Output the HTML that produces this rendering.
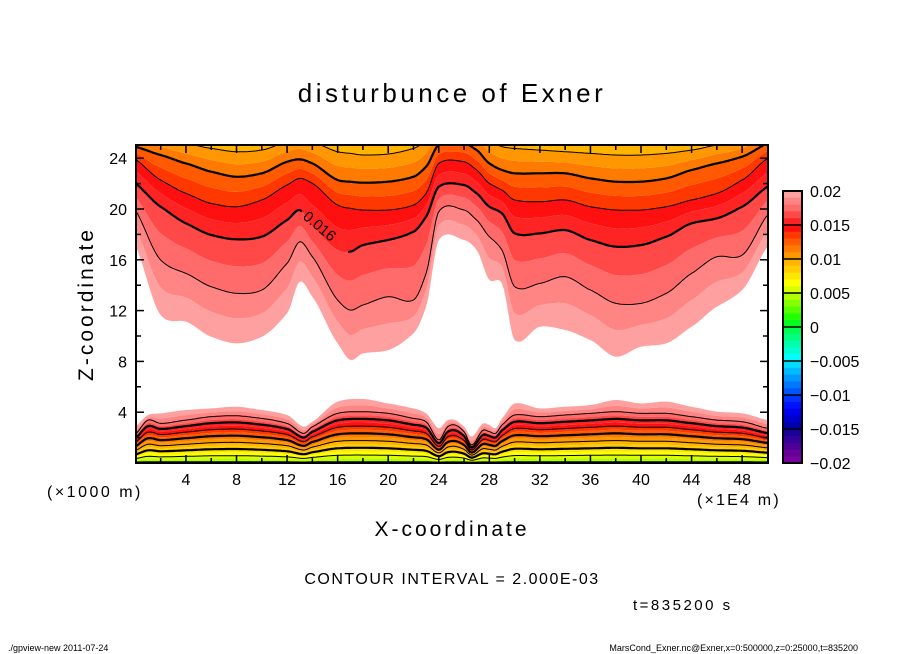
<!DOCTYPE html>
<html><head><meta charset="utf-8"><style>
html,body{margin:0;padding:0;background:#fff;}
svg{display:block;font-family:"Liberation Sans",sans-serif;}
</style></head><body>
<svg id="chart" width="904" height="654" viewBox="0 0 904 654" xmlns="http://www.w3.org/2000/svg">
<defs><clipPath id="plotclip"><rect x="136" y="145" width="632" height="318"/></clipPath></defs>
<rect width="904" height="654" fill="#fff"/>
<text x="452" y="102" font-size="26" text-anchor="middle" letter-spacing="3.5">disturbunce of Exner</text>
<g id="bands" clip-path="url(#plotclip)"></g>
<g id="lines" clip-path="url(#plotclip)"></g>
<text x="0" y="0" font-size="15" transform="translate(302,218) rotate(40)">0.016</text>
<rect x="136" y="145" width="632" height="318" fill="none" stroke="#000" stroke-width="2"/>
<g id="axes"></g>
<text x="47" y="497" font-size="16" letter-spacing="2.5">(×1000 m)</text>
<text x="697" y="505" font-size="16" letter-spacing="2.2">(×1E4 m)</text>
<text x="452" y="536" font-size="21" text-anchor="middle" letter-spacing="3">X-coordinate</text>
<text x="0" y="0" font-size="21" text-anchor="middle" letter-spacing="3" transform="translate(93,304) rotate(-90)">Z-coordinate</text>
<text x="452" y="584" font-size="16" text-anchor="middle" letter-spacing="1.5">CONTOUR INTERVAL = 2.000E-03</text>
<text x="633" y="610" font-size="15" letter-spacing="2.5">t=835200 s</text>
<text x="8" y="651" font-size="9">./gpview-new   2011-07-24</text>
<text x="858" y="651" font-size="9" text-anchor="end">MarsCond_Exner.nc@Exner,x=0:500000,z=0:25000,t=835200</text>
<g id="colorbar"></g>
</svg>
<script>
// Upper region: heights (km) of contour levels vs x (1E4 m)
const upX  =[0,2,4,6,8,10,12,13,14,16,17,18,20,22,23,24,26,27,28,29,30,32,34,36,38,40,42,44,46,48,50];
const up20 =[17.16,11.65,11.13,9.94,9.42,9.94,11.78,14.28,13.09,9.42,8.11,8.63,8.89,10.21,12.31,17.56,17.56,16.77,14.41,14.14,9.68,10.73,10.47,9.68,8.37,9.16,9.42,10.73,12.31,13.62,17.03];
const up18 =[19.92,15.98,14.93,13.88,13.36,13.62,15.72,17.42,16.24,12.83,12.04,12.44,13.09,12.83,14.93,19.79,19.92,19.13,17.82,16.77,13.88,14.14,14.67,13.62,12.57,12.57,13.36,14.93,16.24,16.37,19.52];
const up16 =[22.02,20.18,18.87,17.95,17.61,17.82,19.13,19.92,18.61,16.77,16.64,17.16,17.56,18.21,19.39,21.76,21.89,21.23,20.18,19.66,18.08,18.08,18.34,17.56,17.03,17.16,17.82,18.87,19.26,20.18,21.76];
const up14 =[23.91,22.28,21.23,20.44,20.18,20.71,21.89,22.41,22.02,20.31,20.05,19.92,19.92,20.31,21.23,23.59,23.72,23.07,22.02,21.49,20.71,20.57,20.71,20.18,19.92,19.92,20.18,20.71,21.23,22.28,23.99];
const up12 =[24.91,24.25,23.59,22.94,22.54,22.81,23.72,23.91,23.59,22.28,22.15,22.07,22.15,22.54,23.33,25.04,25.17,24.64,23.59,23.07,22.81,22.81,22.81,22.41,22.15,22.15,22.41,23.07,23.59,24.12,25.17];
const up10 =[26.48,25.56,25.17,24.77,24.51,24.64,25.30,25.56,25.30,24.51,24.38,24.25,24.33,24.77,25.43,27.0,27.0,26.48,25.43,24.91,24.77,24.64,24.51,24.38,24.25,24.25,24.38,24.64,25.04,25.43,26.74];
// Lower region: height of 0.020 edge and 0.018 line
const lowX =[0,1,2,4,6,8,10,12,13.3,14,16,18,20,22,23,24,24.7,25.3,26,26.6,27.5,28,28.5,29,30,32,34,36,38,40,42,44,46,48,50];
const low20=[2.86,3.78,3.91,4.17,4.30,4.43,4.17,3.78,2.86,3.25,4.83,5.04,4.69,4.30,3.91,2.73,3.38,3.38,2.86,2.07,3.12,2.99,2.73,3.51,4.69,4.30,4.43,4.56,4.96,4.69,4.83,4.43,4.04,3.91,3.38];
const low18=[2.25,3.38,3.12,3.38,3.65,3.72,3.51,3.12,2.33,2.86,3.91,4.04,3.91,3.51,3.25,1.81,2.86,2.99,2.47,1.41,2.59,2.47,2.33,2.99,3.78,3.65,3.78,3.91,4.04,3.91,3.91,3.65,3.38,3.25,2.73];
const lowBase = 0.0038;
// colorbar
const cbTicks=["0.02","0.015","0.01","0.005","0","-0.005","-0.01","-0.015","-0.02"];
const binColors=["#FFA0A0","#FF8585","#FF6A6A","#FF4848","#FF2424","#FF1010","#FF3800","#FF5A00","#FF7A00","#FF9800",
"#FFB400","#FFCC00","#FFE600","#FFFF00","#D8FF00","#B0FF00","#88FF00","#55FF00","#22FF00","#00FF20",
"#00FF50","#00FF80","#00FFAA","#00FFD5","#00FFFF","#00DDFF","#00BBFF","#0099FF","#0077FF","#0055FF",
"#0033FF","#0011FF","#0000EE","#0000CC","#0000AA","#1A0099","#330099","#4D0099","#660099","#7A00A0"]; // 0.020 down to -0.020

const NS="http://www.w3.org/2000/svg";
const xPx=x=>135.4+12.64*x, zPx=z=>463-12.7*z;
function interp(xs,ys,x){const n=xs.length;if(x<=xs[0])return ys[0];if(x>=xs[n-1])return ys[n-1];
 let i=1;while(x>xs[i])i++;
 const x0=xs[i-1],x1=xs[i],y0=ys[i-1],y1=ys[i],h=x1-x0,t=(x-x0)/h;
 const m0=i>1?(y1-ys[i-2])/(x1-xs[i-2])*h:(y1-y0);
 const m1=i<n-1?(ys[i+1]-y0)/(xs[i+1]-x0)*h:(y1-y0);
 const t2=t*t,t3=t2*t;
 return (2*t3-3*t2+1)*y0+(t3-2*t2+t)*m0*0.8+(-2*t3+3*t2)*y1+(t3-t2)*m1*0.8;}
const upLev=[0.020,0.018,0.016,0.014,0.012,0.010], upArr=[up20,up18,up16,up14,up12,up10];
function zUp(v,x){const z=upArr.map(a=>interp(upX,a,x));
 if(v>=0.020)return z[0];
 for(let i=1;i<upLev.length;i++){if(v>=upLev[i]-1e-9){const t=(upLev[i-1]-v)/0.002;return z[i-1]+t*(z[i]-z[i-1]);}}
 return z[5]+(0.010-v)/0.002*(z[5]-z[4]);}
function zLow(v,x){const e=interp(lowX,low20,x),l=interp(lowX,low18,x);
 if(v>=0.018)return l+(v-0.018)/0.002*(e-l);
 return l*(1-(0.018-v)/(0.018-lowBase));}
function colorFor(k){return binColors[19-k];}
function mk(tag,attrs,parent){const e=document.createElementNS(NS,tag);for(const k in attrs)e.setAttribute(k,attrs[k]);parent.appendChild(e);return e;}
const bands=document.getElementById('bands'),lines=document.getElementById('lines');
const xs=[];for(let p=136;p<=768;p+=2)xs.push((p-135.4)/12.64);
for(let k=19;k>=3;k--){const a=k/1000,b=(k+1)/1000;
 const top=xs.map(x=>xPx(x).toFixed(1)+','+zPx(Math.min(zUp(a,x),27)).toFixed(1));
 const bot=xs.map(x=>xPx(x).toFixed(1)+','+zPx(Math.min(zUp(b,x),27)).toFixed(1)).reverse();
 const p=mk('polygon',{points:top.concat(bot).join(' '),fill:colorFor(k)},bands);
 
 }
for(let k=19;k>=3;k--){const a=k/1000,b=(k+1)/1000;
 const lo=xs.map(x=>xPx(x).toFixed(1)+','+zPx(k===3?-1:zLow(a,x)).toFixed(1));
 const hi=xs.map(x=>xPx(x).toFixed(1)+','+zPx(zLow(b,x)).toFixed(1)).reverse();
 const p=mk('polygon',{points:lo.concat(hi).join(' '),fill:colorFor(k)},bands);
 
 }
for(const k of [18,16,14,12,10,8]){const v=k/1000;
 let segs=[[]];
 xs.forEach(x=>{if(k===16&&x>13.3&&x<16.8){if(segs[segs.length-1].length)segs.push([]);return;}
  segs[segs.length-1].push(xPx(x).toFixed(1)+','+zPx(Math.min(zUp(v,x),27)).toFixed(1));});
 segs.forEach(s=>{if(s.length<2)return;
  const l=mk('polyline',{points:s.join(' '),fill:'none',stroke:'#000','stroke-width':k%4===0?2.2:1},lines);
  
  });}
for(const k of [18,16,14,12,10,8,6,4]){const v=k/1000;
 const pts=xs.map(x=>xPx(x).toFixed(1)+','+zPx(zLow(v,x)).toFixed(1));
 const l=mk('polyline',{points:pts.join(' '),fill:'none',stroke:'#000','stroke-width':k%4===0?2.2:1},lines);
 
 }
const axes=document.getElementById('axes');
for(let x=2;x<50;x+=2){const px=xPx(x),len=x%4===0?8:5;
 mk('line',{x1:px,y1:463,x2:px,y2:463-len,stroke:'#000','stroke-width':1.5},axes);
 mk('line',{x1:px,y1:145,x2:px,y2:145+len,stroke:'#000','stroke-width':1.5},axes);
 if(x%4===0){const t=mk('text',{x:px,y:485,'font-size':16,'text-anchor':'middle'},axes);t.textContent=x;
  
  }}
for(let z=2;z<25;z+=2){const py=zPx(z),len=z%4===0?8:5;
 mk('line',{x1:136,y1:py,x2:136+len,y2:py,stroke:'#000','stroke-width':1.5},axes);
 mk('line',{x1:768,y1:py,x2:768-len,y2:py,stroke:'#000','stroke-width':1.5},axes);
 if(z%4===0){const t=mk('text',{x:127,y:py+6,'font-size':16,'text-anchor':'end'},axes);t.textContent=z;
  
  }}
const cb=document.getElementById('colorbar');const cbTop=191,cbH=272,bh=cbH/40;
binColors.forEach((c,i)=>{const r=mk('rect',{x:783,y:(cbTop+i*bh).toFixed(2),width:19,height:(bh+0.4).toFixed(2),fill:c},cb);
 
 });
for(let i=0;i<=8;i++){mk('line',{x1:783,y1:cbTop+i*34,x2:802,y2:cbTop+i*34,stroke:'#000','stroke-width':1.5},cb);
 const t=mk('text',{x:810,y:cbTop+i*34+6,'font-size':16},cb);t.textContent=cbTicks[i].replace('-','\u2212');
 
 }
mk('rect',{x:783,y:cbTop,width:19,height:cbH,fill:'none',stroke:'#000','stroke-width':2},cb);
</script>
</body></html>
